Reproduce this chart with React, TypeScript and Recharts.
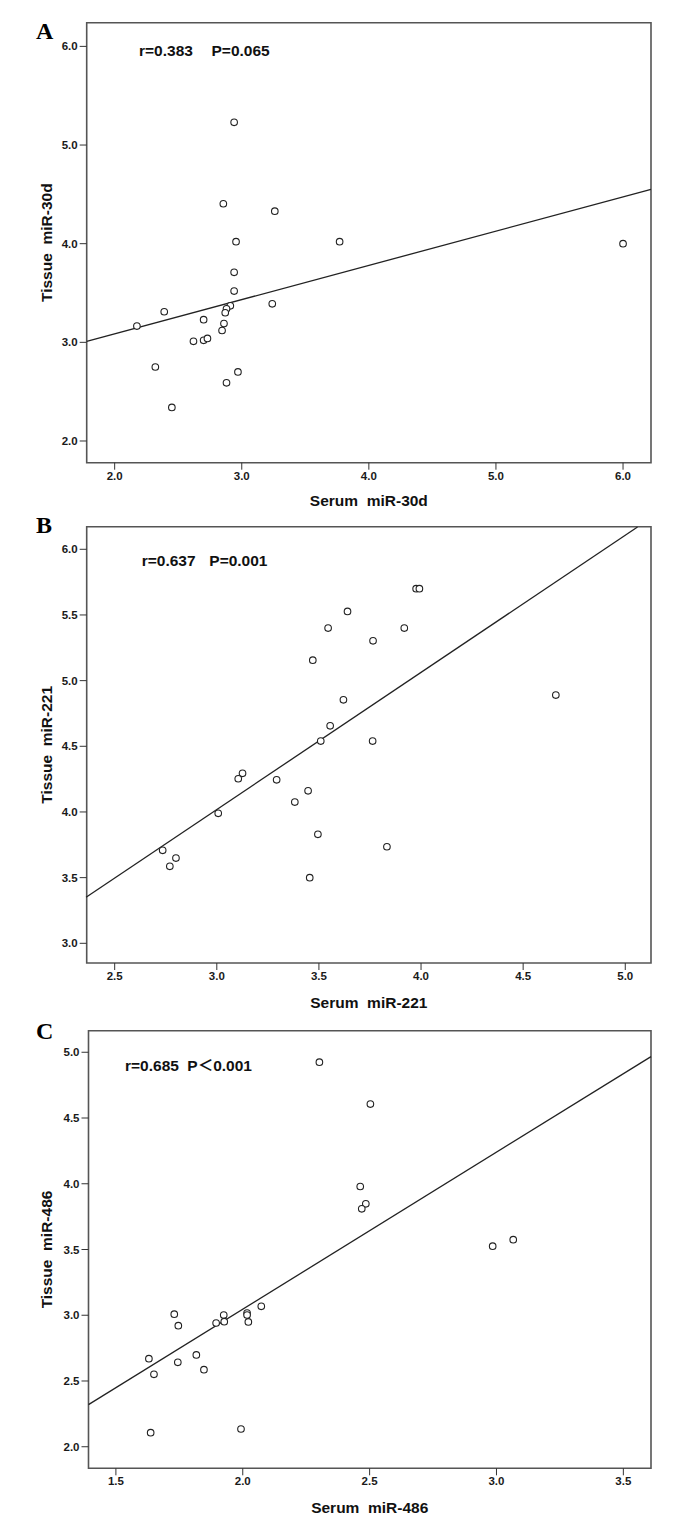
import React from "react";
import {
  ScatterChart,
  Scatter,
  XAxis,
  YAxis,
  ReferenceArea,
  ReferenceLine,
} from "recharts";

// Panel A: miR-30d
const serum30d = [
  2.94, 2.855, 3.26, 2.955, 3.77, 2.94, 2.94, 2.39, 3.24, 2.91, 2.88, 2.87,
  2.7, 2.175, 2.86, 2.845, 2.62, 2.7, 2.73, 2.32, 2.97, 2.88, 2.45, 6.0,
];
const tissue30d = [
  5.23, 4.405, 4.33, 4.02, 4.02, 3.71, 3.52, 3.31, 3.39, 3.37, 3.34, 3.3,
  3.23, 3.165, 3.19, 3.12, 3.01, 3.02, 3.04, 2.75, 2.7, 2.59, 2.34, 4.0,
];
const fit30d = [
  { x: 1.78, y: 3.01 },
  { x: 6.22, y: 4.55 },
];

// Panel B: miR-221
const serum221 = [
  3.976, 3.992, 3.64, 3.545, 3.918, 3.765, 3.47, 3.62, 3.555, 3.509, 3.763,
  3.126, 3.105, 3.293, 3.447, 3.382, 3.007, 3.495, 3.833, 2.735, 2.8, 2.77,
  3.455, 4.66,
];
const tissue221 = [
  5.7, 5.7, 5.527, 5.4, 5.4, 5.303, 5.156, 4.854, 4.656, 4.54, 4.54, 4.294,
  4.253, 4.245, 4.161, 4.075, 3.99, 3.83, 3.735, 3.708, 3.649, 3.586, 3.5,
  4.89,
];
const fit221 = [
  { x: 2.36, y: 3.35 },
  { x: 5.06, y: 6.17 },
];

// Panel C: miR-486
const serum486 = [
  2.302, 2.503, 2.463, 2.485, 2.469, 3.066, 2.985, 2.073, 1.73, 1.925, 2.017,
  2.017, 1.746, 1.895, 1.927, 2.022, 1.63, 1.817, 1.744, 1.847, 1.65, 1.993,
  1.637,
];
const tissue486 = [
  4.925, 4.606, 3.979, 3.847, 3.809, 3.575, 3.525, 3.068, 3.008, 3.002,
  3.017, 3.002, 2.921, 2.941, 2.951, 2.949, 2.67, 2.698, 2.642, 2.586, 2.551,
  2.135, 2.107,
];
const fit486 = [
  { x: 1.392, y: 2.32 },
  { x: 3.609, y: 4.967 },
];

const xTicksA = [2, 3, 4, 5, 6];
const yTicksA = [2, 3, 4, 5, 6];
const xTicksB = [2.5, 3, 3.5, 4, 4.5, 5];
const yTicksB = [3, 3.5, 4, 4.5, 5, 5.5, 6];
const xTicksC = [1.5, 2, 2.5, 3, 3.5];
const yTicksC = [2, 2.5, 3, 3.5, 4, 4.5, 5];

const narrow = "'Liberation Sans Narrow', 'Arial Narrow', 'Liberation Sans', sans-serif";
const sans = "'Liberation Sans', Arial, sans-serif";
const gap = "\u00a0\u00a0";

type PanelProps = {
  xs: number[];
  ys: number[];
  fit: { x: number; y: number }[];
  xDomain: [number, number];
  yDomain: [number, number];
  xTicks: number[];
  yTicks: number[];
  xTitle: string;
  yTitle: string;
  top: number;
  height: number;
  marginTop: number;
  axisHeight: number;
  axisWidth: number;
  titleOffset: number;
};

const Ring = (props: any) => {
  const { cx, cy } = props;
  if (cx == null || cy == null) return null;
  return <circle cx={cx} cy={cy} r={3.3} fill="#fff" stroke="#222" strokeWidth={1.1} />;
};

const titleStyle = {
  fontSize: 15.5,
  fontWeight: "bold",
  fill: "#111",
  fontFamily: sans,
};

function Panel(p: PanelProps) {
  const points = p.xs.map((x, i) => ({ x, y: p.ys[i] }));
  const tick = { fontSize: 11.5, fill: "#1a1a1a", fontFamily: narrow, fontWeight: 600 };
  return (
    <div style={{ position: "absolute", left: 0, top: p.top }}>
      <ScatterChart
        width={688}
        height={p.height}
        margin={{ top: p.marginTop, right: 37, bottom: 0, left: 0 }}
      >
        <XAxis
          type="number"
          dataKey="x"
          domain={p.xDomain}
          ticks={p.xTicks}
          allowDataOverflow
          axisLine={false}
          tickLine={{ stroke: "#333" }}
          tickSize={7}
          height={p.axisHeight}
          tick={tick}
          tickFormatter={(v: number) => v.toFixed(1)}
          label={{
            value: p.xTitle,
            position: "insideBottom",
            offset: p.titleOffset,
            style: titleStyle,
          }}
        />
        <YAxis
          type="number"
          dataKey="y"
          domain={p.yDomain}
          ticks={p.yTicks}
          allowDataOverflow
          axisLine={false}
          tickLine={{ stroke: "#333" }}
          tickSize={7}
          width={p.axisWidth}
          tick={tick}
          tickFormatter={(v: number) => v.toFixed(1)}
          label={{
            value: p.yTitle,
            angle: -90,
            position: "insideLeft",
            offset: 46.7,
            style: { ...titleStyle, textAnchor: "middle" },
          }}
        />
        <ReferenceArea
          x1={p.xDomain[0]}
          x2={p.xDomain[1]}
          y1={p.yDomain[0]}
          y2={p.yDomain[1]}
          fill="none"
          fillOpacity={0}
          stroke="#555"
          strokeWidth={1.6}
          ifOverflow="visible"
        />
        <ReferenceLine
          segment={p.fit}
          stroke="#222"
          strokeWidth={1.3}
          ifOverflow="visible"
        />
        <Scatter data={points} shape={Ring} isAnimationActive={false} />
      </ScatterChart>
    </div>
  );
}

export default function App() {
  const letter = {
    fontFamily: "'Liberation Serif', 'DejaVu Serif', serif",
    fontWeight: "bold" as const,
    fontSize: 24,
    fill: "#000",
  };
  const stat = {
    fontFamily: `${sans}, 'Noto Sans CJK SC'`,
    fontWeight: "bold" as const,
    fontSize: 15.5,
    fill: "#111",
  };
  return (
    <div
      style={{
        position: "absolute",
        left: 0,
        top: 0,
        width: 688,
        height: 1518,
        background: "#fff",
      }}
    >
      <Panel
        xs={serum30d}
        ys={tissue30d}
        fit={fit30d}
        xDomain={[1.78, 6.22]}
        yDomain={[1.78, 6.24]}
        xTicks={xTicksA}
        yTicks={yTicksA}
        xTitle={`Serum${gap}miR-30d`}
        yTitle={`Tissue${gap}miR-30d`}
        top={0}
        height={508}
        marginTop={22.7}
        axisHeight={45.3}
        axisWidth={86.7}
        titleOffset={2.5}
      />
      <Panel
        xs={serum221}
        ys={tissue221}
        fit={fit221}
        xDomain={[2.363, 5.126]}
        yDomain={[2.85, 6.172]}
        xTicks={xTicksB}
        yTicks={yTicksB}
        xTitle={`Serum${gap}miR-221`}
        yTitle={`Tissue${gap}miR-221`}
        top={508}
        height={502}
        marginTop={18.7}
        axisHeight={47}
        axisWidth={86.7}
        titleOffset={2.5}
      />
      <Panel
        xs={serum486}
        ys={tissue486}
        fit={fit486}
        xDomain={[1.392, 3.609]}
        yDomain={[1.836, 5.164]}
        xTicks={xTicksC}
        yTicks={yTicksC}
        xTitle={`Serum${gap}miR-486`}
        yTitle={`Tissue${gap}miR-486`}
        top={1010}
        height={508}
        marginTop={20.7}
        axisHeight={49.7}
        axisWidth={88.5}
        titleOffset={5.5}
      />
      <svg
        width={688}
        height={1518}
        style={{ position: "absolute", left: 0, top: 0, pointerEvents: "none" }}
      >
        <text x={36} y={39} style={letter}>A</text>
        <text x={36} y={533} style={letter}>B</text>
        <text x={36} y={1039} style={letter}>C</text>
        <text x={139} y={55.5} style={stat}>r=0.383</text>
        <text x={211.5} y={55.5} style={stat}>P=0.065</text>
        <text x={141.7} y={565.5} style={stat}>r=0.637</text>
        <text x={209.3} y={565.5} style={stat}>P=0.001</text>
        <text x={125} y={1070.5} style={stat}>r=0.685</text>
        <text x={187.3} y={1070.5} style={stat}>P＜0.001</text>
      </svg>
    </div>
  );
}
